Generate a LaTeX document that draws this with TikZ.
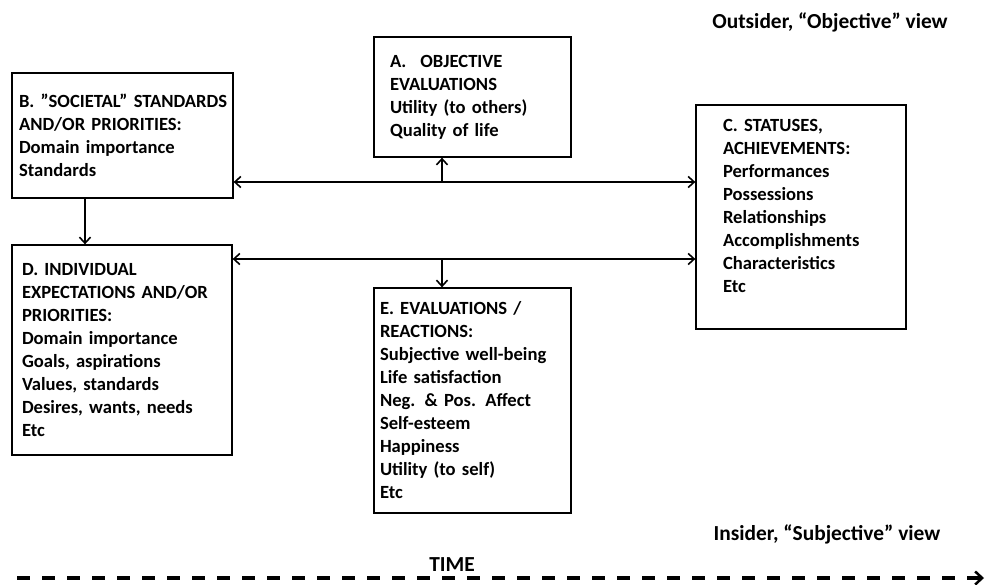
\documentclass[tikz,border=0pt]{standalone}
\usepackage{fontspec}
\setmainfont{Carlito}
\usetikzlibrary{arrows.meta}
\usetikzlibrary{positioning}
\tikzset{barb/.tip = {Straight Barb[length=6pt,width=11pt,line width=1.6pt]}}
\tikzset{box/.style = {draw, line width=1.3pt, align=left, inner ysep=0pt,
                       font=\fontsize{18.6}{23}\selectfont\bfseries}}
\tikzset{link/.style = {line width=1.6pt, barb-barb}}
\tikzset{feed/.style = {line width=1.6pt, -barb}}
\tikzset{view/.style = {font=\fontsize{21.4}{23}\selectfont\bfseries}}
\tikzset{timeline/.style = {line width=3.5pt, dash pattern=on 13pt off 12pt,
                            -{Straight Barb[length=7pt,width=13pt,line width=2.5pt]}}}

\begin{document}
\begin{tikzpicture}[x=1pt, y=-1pt]
      \useasboundingbox (0, 0) rectangle (987, 584);

      \node [box, minimum width=221pt, minimum height=125pt, inner xsep=7pt, text width=207pt]
        (B) at (122.5, 135.5)
        {\mbox{B. ”SOCIETAL” STANDARDS}\\ AND/OR PRIORITIES:\\ Domain importance\\ Standards};
      \node [box, minimum width=197pt, minimum height=120pt, inner xsep=16pt, text width=165pt]
        (A) at (472.5, 97)
        {A.\hspace{14pt}OBJECTIVE\\ EVALUATIONS\\ Utility (to others)\\ Quality of life};
      \node [box, minimum width=210pt, minimum height=224pt, inner xsep=27pt, text width=156pt]
        (C) at (801, 217)
        {C. STATUSES,\\ ACHIEVEMENTS:\\ Performances\\ Possessions\\ Relationships\\
         Accomplishments\\ Characteristics\\ Etc\\ \mbox{}};
      \node [box, minimum width=220pt, minimum height=210pt, inner xsep=10pt, text width=200pt]
        (D) at (122, 350)
        {D. INDIVIDUAL\\ EXPECTATIONS AND/OR\\ PRIORITIES:\\ Domain importance\\
         Goals, aspirations\\ Values, standards\\ Desires, wants, needs\\ Etc};
      \node [box, minimum width=197pt, minimum height=225pt, inner xsep=6pt, text width=185pt]
        (E) at (472.5, 400.5)
        {E. EVALUATIONS /\\ REACTIONS:\\ Subjective well-being\\ Life satisfaction\\
         Neg. \& Pos. Affect\\ Self-esteem\\ Happiness\\ Utility (to self)\\ Etc};

      \coordinate (uj) at (442, 182);
      \coordinate (lj) at (442, 259);
      \coordinate (bd) at (85, 220);

      \draw [link] (B.east |- uj) -- (C.west |- uj);
      \draw [feed] (uj) -- (uj |- A.south);
      \draw [link] (D.east |- lj) -- (C.west |- lj);
      \draw [feed] (lj) -- (lj |- E.north);
      \draw [feed] (B.south -| bd) -- (D.north -| bd);

      \node [view] (out) at (830, 22) {Outsider, “Objective” view};
      \node [view] (in) at (827, 534) {Insider, “Subjective” view};

      \coordinate (t0) at (17, 578);
      \coordinate (t1) at (984, 578);
      \draw [timeline] (t0) -- (t1);
      \node [view] (time) at (452, 565) {TIME};
    \end{tikzpicture}
\end{document}
